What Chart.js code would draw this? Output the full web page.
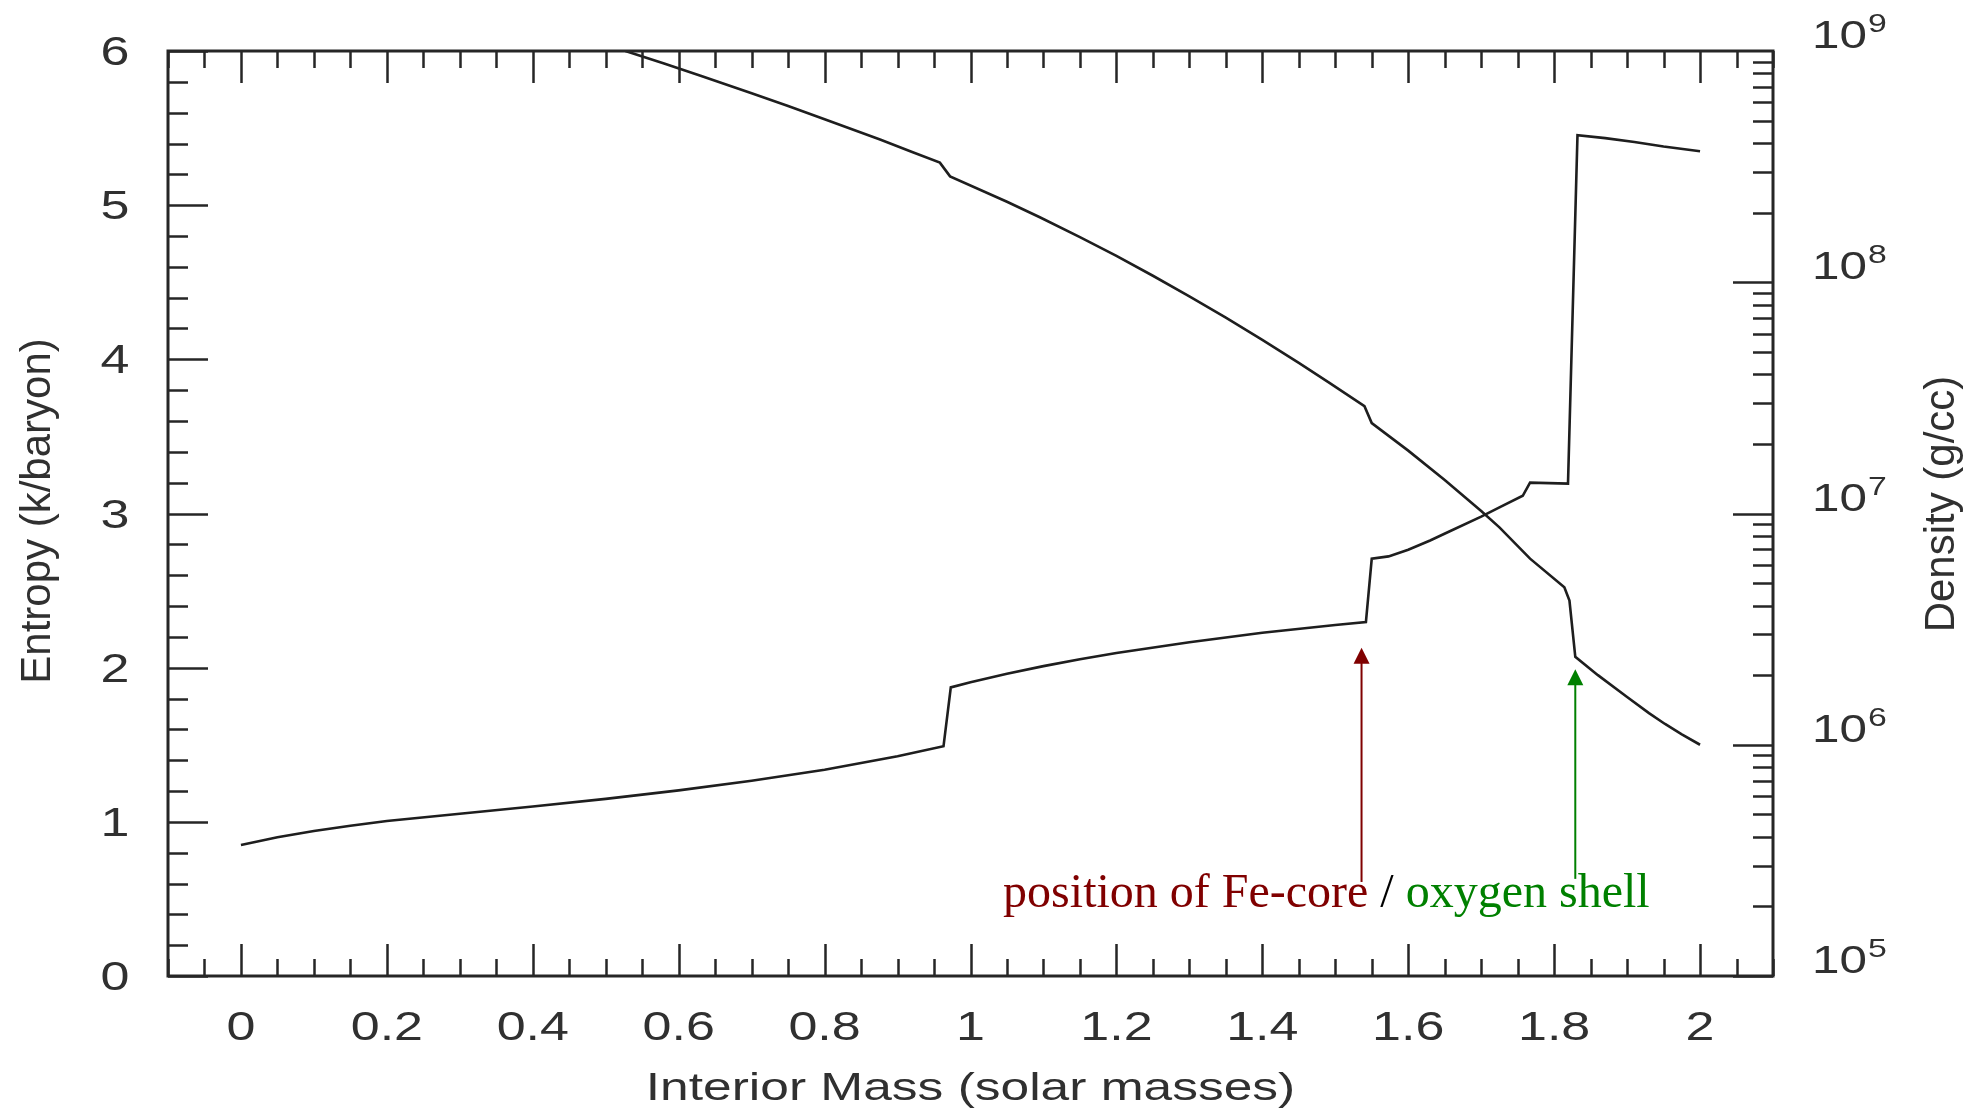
<!DOCTYPE html>
<html>
<head>
<meta charset="utf-8">
<title>Entropy and density profile</title>
<script src="https://cdn.jsdelivr.net/npm/chart.js@4.4.1/dist/chart.umd.min.js"></script>
<style>
    html, body { margin: 0; padding: 0; background: #ffffff; }
    #wrap { position: relative; width: 1984px; height: 1109px; }
</style>
</head>
<body>
<div id="wrap"><canvas id="chart"></canvas></div>
<script>
// entropy profile (k/baryon) against interior mass (solar masses)
const entropyMass = [0, 0.05, 0.1, 0.15, 0.2, 0.3, 0.4, 0.5, 0.6, 0.7, 0.8, 0.9, 0.963, 0.973,
    1.0, 1.05, 1.1, 1.15, 1.2, 1.3, 1.4, 1.5, 1.542, 1.55, 1.573, 1.6, 1.63, 1.657, 1.7, 1.725, 1.757, 1.767,
    1.819, 1.832, 1.87, 1.91, 1.95, 2.0]
const entropyValues = [0.85, 0.90, 0.94, 0.975, 1.005, 1.052, 1.099, 1.149, 1.204, 1.266, 1.338, 1.425, 1.49, 1.872,
    1.905, 1.96, 2.01, 2.055, 2.095, 2.165, 2.227, 2.277, 2.296, 2.707, 2.722, 2.765, 2.825, 2.885, 2.98, 3.04, 3.115, 3.20,
    3.194, 5.454, 5.435, 5.41, 5.38, 5.35]

// density profile (g/cc), enters the plot at the top edge
const densityMass = [0.527, 0.58, 0.63, 0.7, 0.75, 0.8, 0.876, 0.92, 0.958, 0.972, 1.05, 1.095, 1.15, 1.2, 1.25,
    1.3, 1.35, 1.4, 1.45, 1.492, 1.54, 1.55, 1.6, 1.65, 1.7, 1.725, 1.767, 1.814, 1.821, 1.829,
    1.86, 1.9, 1.93, 1.952, 1.975, 2.0]
const densityValues = [1.0e9, 8.83e8, 7.82e8, 6.56e8, 5.78e8, 5.07e8, 4.14e8, 3.66e8, 3.29e8, 2.87e8, 2.23e8, 1.91e8, 1.567e8, 1.30e8, 1.067e8,
    8.69e7, 7.03e7, 5.64e7, 4.48e7, 3.67e7, 2.91e7, 2.46e7, 1.87e7, 1.397e7, 1.025e7, 8.71e6, 6.38e6, 4.8e6, 4.2e6, 2.4e6,
    2.0e6, 1.61e6, 1.37e6, 1.23e6, 1.11e6, 1.0e6]

const massTicks = [0, 0.2, 0.4, 0.6, 0.8, 1, 1.2, 1.4, 1.6, 1.8, 2]
const massTickLabels = ['0', '0.2', '0.4', '0.6', '0.8', '1', '1.2', '1.4', '1.6', '1.8', '2']
const entropyTicks = [0, 1, 2, 3, 4, 5, 6]
const densityDecades = [5, 6, 7, 8, 9]

// arrows: mass position, entropy of the tip
const feCoreMass = 1.536
const oxygenShellMass = 1.829

const INK = '#262626'
const TEXT = '#303030'
const SANS = '"Liberation Sans", Arial, sans-serif'
const SERIF = '"Liberation Serif", "Times New Roman", serif'

function wideText(ctx, text, x, y, stretch, align) {
    ctx.save()
    ctx.translate(x, y)
    ctx.scale(stretch, 1)
    ctx.textAlign = align
    ctx.fillText(text, 0, 0)
    ctx.restore()
}

function arrow(ctx, x, yTip, yTail, colour) {
    ctx.strokeStyle = colour
    ctx.fillStyle = colour
    ctx.lineWidth = 2
    ctx.beginPath()
    ctx.moveTo(x, yTail)
    ctx.lineTo(x, yTip + 12)
    ctx.stroke()
    ctx.beginPath()
    ctx.moveTo(x, yTip)
    ctx.lineTo(x - 8, yTip + 16)
    ctx.lineTo(x + 8, yTip + 16)
    ctx.closePath()
    ctx.fill()
}

const framePlugin = {
    id: 'frame',
    afterDatasetsDraw(chart) {
        const {ctx, chartArea: a} = chart
        const {x, y, y2} = chart.scales

        ctx.save()
        ctx.strokeStyle = INK
        ctx.lineWidth = 2.5
        ctx.beginPath()
        // mass: minor every 0.05, major every 0.2, top and bottom, pointing in
        for (let i = -2; i <= 42; i++) {
            const px = Math.round(x.getPixelForValue(i * 0.05)) + 0.5
            const len = i % 4 === 0 ? 32 : 17
            ctx.moveTo(px, a.bottom); ctx.lineTo(px, a.bottom - len)
            ctx.moveTo(px, a.top); ctx.lineTo(px, a.top + len)
        }
        // entropy: minor every 0.2
        for (let i = 0; i <= 30; i++) {
            const py = Math.round(y.getPixelForValue(i * 0.2)) + 0.5
            const len = i % 5 === 0 ? 40 : 20
            ctx.moveTo(a.left, py); ctx.lineTo(a.left + len, py)
        }
        // density: log ticks 1..9 per decade
        for (let d = 5; d < 9; d++) {
            for (let m = 1; m <= 9; m++) {
                const py = Math.round(y2.getPixelForValue(m * Math.pow(10, d))) + 0.5
                const len = m === 1 ? 40 : 20
                ctx.moveTo(a.right, py); ctx.lineTo(a.right - len, py)
            }
        }
        ctx.stroke()

        ctx.lineWidth = 3
        ctx.strokeRect(a.left, a.top, a.right - a.left, a.bottom - a.top)

        // tick labels
        ctx.fillStyle = TEXT
        ctx.textBaseline = 'alphabetic'
        ctx.font = `40px ${SANS}`
        massTicks.forEach((v, i) => {
            wideText(ctx, massTickLabels[i], x.getPixelForValue(v), a.bottom + 64, 1.3, 'center')
        })
        entropyTicks.forEach((v) => {
            wideText(ctx, String(v), 115, y.getPixelForValue(v) + 14, 1.3, 'center')
        })
        densityDecades.forEach((d) => {
            const py = y2.getPixelForValue(Math.pow(10, d))
            ctx.font = `38px ${SANS}`
            wideText(ctx, '10', 1812, py - 3, 1.3, 'left')
            const w = ctx.measureText('10').width * 1.3
            ctx.font = `26px ${SANS}`
            wideText(ctx, String(d), 1812 + w + 1, py - 19, 1.3, 'left')
        })

        // axis titles
        ctx.font = `39px ${SANS}`
        wideText(ctx, 'Interior Mass (solar masses)', (a.left + a.right) / 2, 1100, 1.32, 'center')

        ctx.font = `42px ${SANS}`
        ctx.textBaseline = 'middle'
        ctx.save()
        ctx.translate(38, 511)
        ctx.rotate(-Math.PI / 2)
        ctx.textAlign = 'center'
        ctx.fillText('Entropy (k/baryon)', 0, 0)
        ctx.restore()
        ctx.save()
        ctx.translate(1942, 504)
        ctx.rotate(-Math.PI / 2)
        ctx.textAlign = 'center'
        ctx.fillText('Density (g/cc)', 0, 0)
        ctx.restore()

        // annotation
        const baseY = y.getPixelForValue(0.445)
        arrow(ctx, x.getPixelForValue(feCoreMass), y.getPixelForValue(2.13), y.getPixelForValue(0.61), '#800000')
        arrow(ctx, x.getPixelForValue(oxygenShellMass), y.getPixelForValue(1.99), y.getPixelForValue(0.63), '#008000')

        ctx.font = `48px ${SERIF}`
        ctx.textBaseline = 'alphabetic'
        ctx.textAlign = 'left'
        let tx = x.getPixelForValue(1.0447)
        const parts = [
            ['position of Fe-core ', '#800000'],
            ['/ ', '#000000'],
            ['oxygen shell', '#008000'],
        ]
        parts.forEach(([text, colour]) => {
            ctx.fillStyle = colour
            ctx.fillText(text, tx, baseY)
            tx += ctx.measureText(text).width
        })
        ctx.restore()
    }
}

const data = {
    datasets: [
        {
            label: 'Entropy',
            data: entropyMass.map((m, i) => ({x: m, y: entropyValues[i]})),
            yAxisID: 'y',
            borderColor: '#1e1e1e',
            borderWidth: 2.6,
            pointRadius: 0,
            tension: 0,
        },
        {
            label: 'Density',
            data: densityMass.map((m, i) => ({x: m, y: densityValues[i]})),
            yAxisID: 'y2',
            borderColor: '#1e1e1e',
            borderWidth: 2.6,
            pointRadius: 0,
            tension: 0,
        },
    ]
}

const config = {
    type: 'line',
    data: data,
    options: {
        responsive: true,
        maintainAspectRatio: false,
        animation: false,
        events: [],
        layout: {
            padding: {left: 168, right: 211, top: 51, bottom: 133}
        },
        scales: {
            x: {type: 'linear', min: -0.1, max: 2.1, display: false},
            y: {type: 'linear', min: 0, max: 6, display: false},
            y2: {type: 'logarithmic', min: 1e5, max: 1e9, display: false},
        },
        plugins: {
            legend: {display: false},
            tooltip: {enabled: false},
        }
    },
    plugins: [framePlugin],
}

new Chart(document.getElementById('chart'), config)
</script>
</body>
</html>
